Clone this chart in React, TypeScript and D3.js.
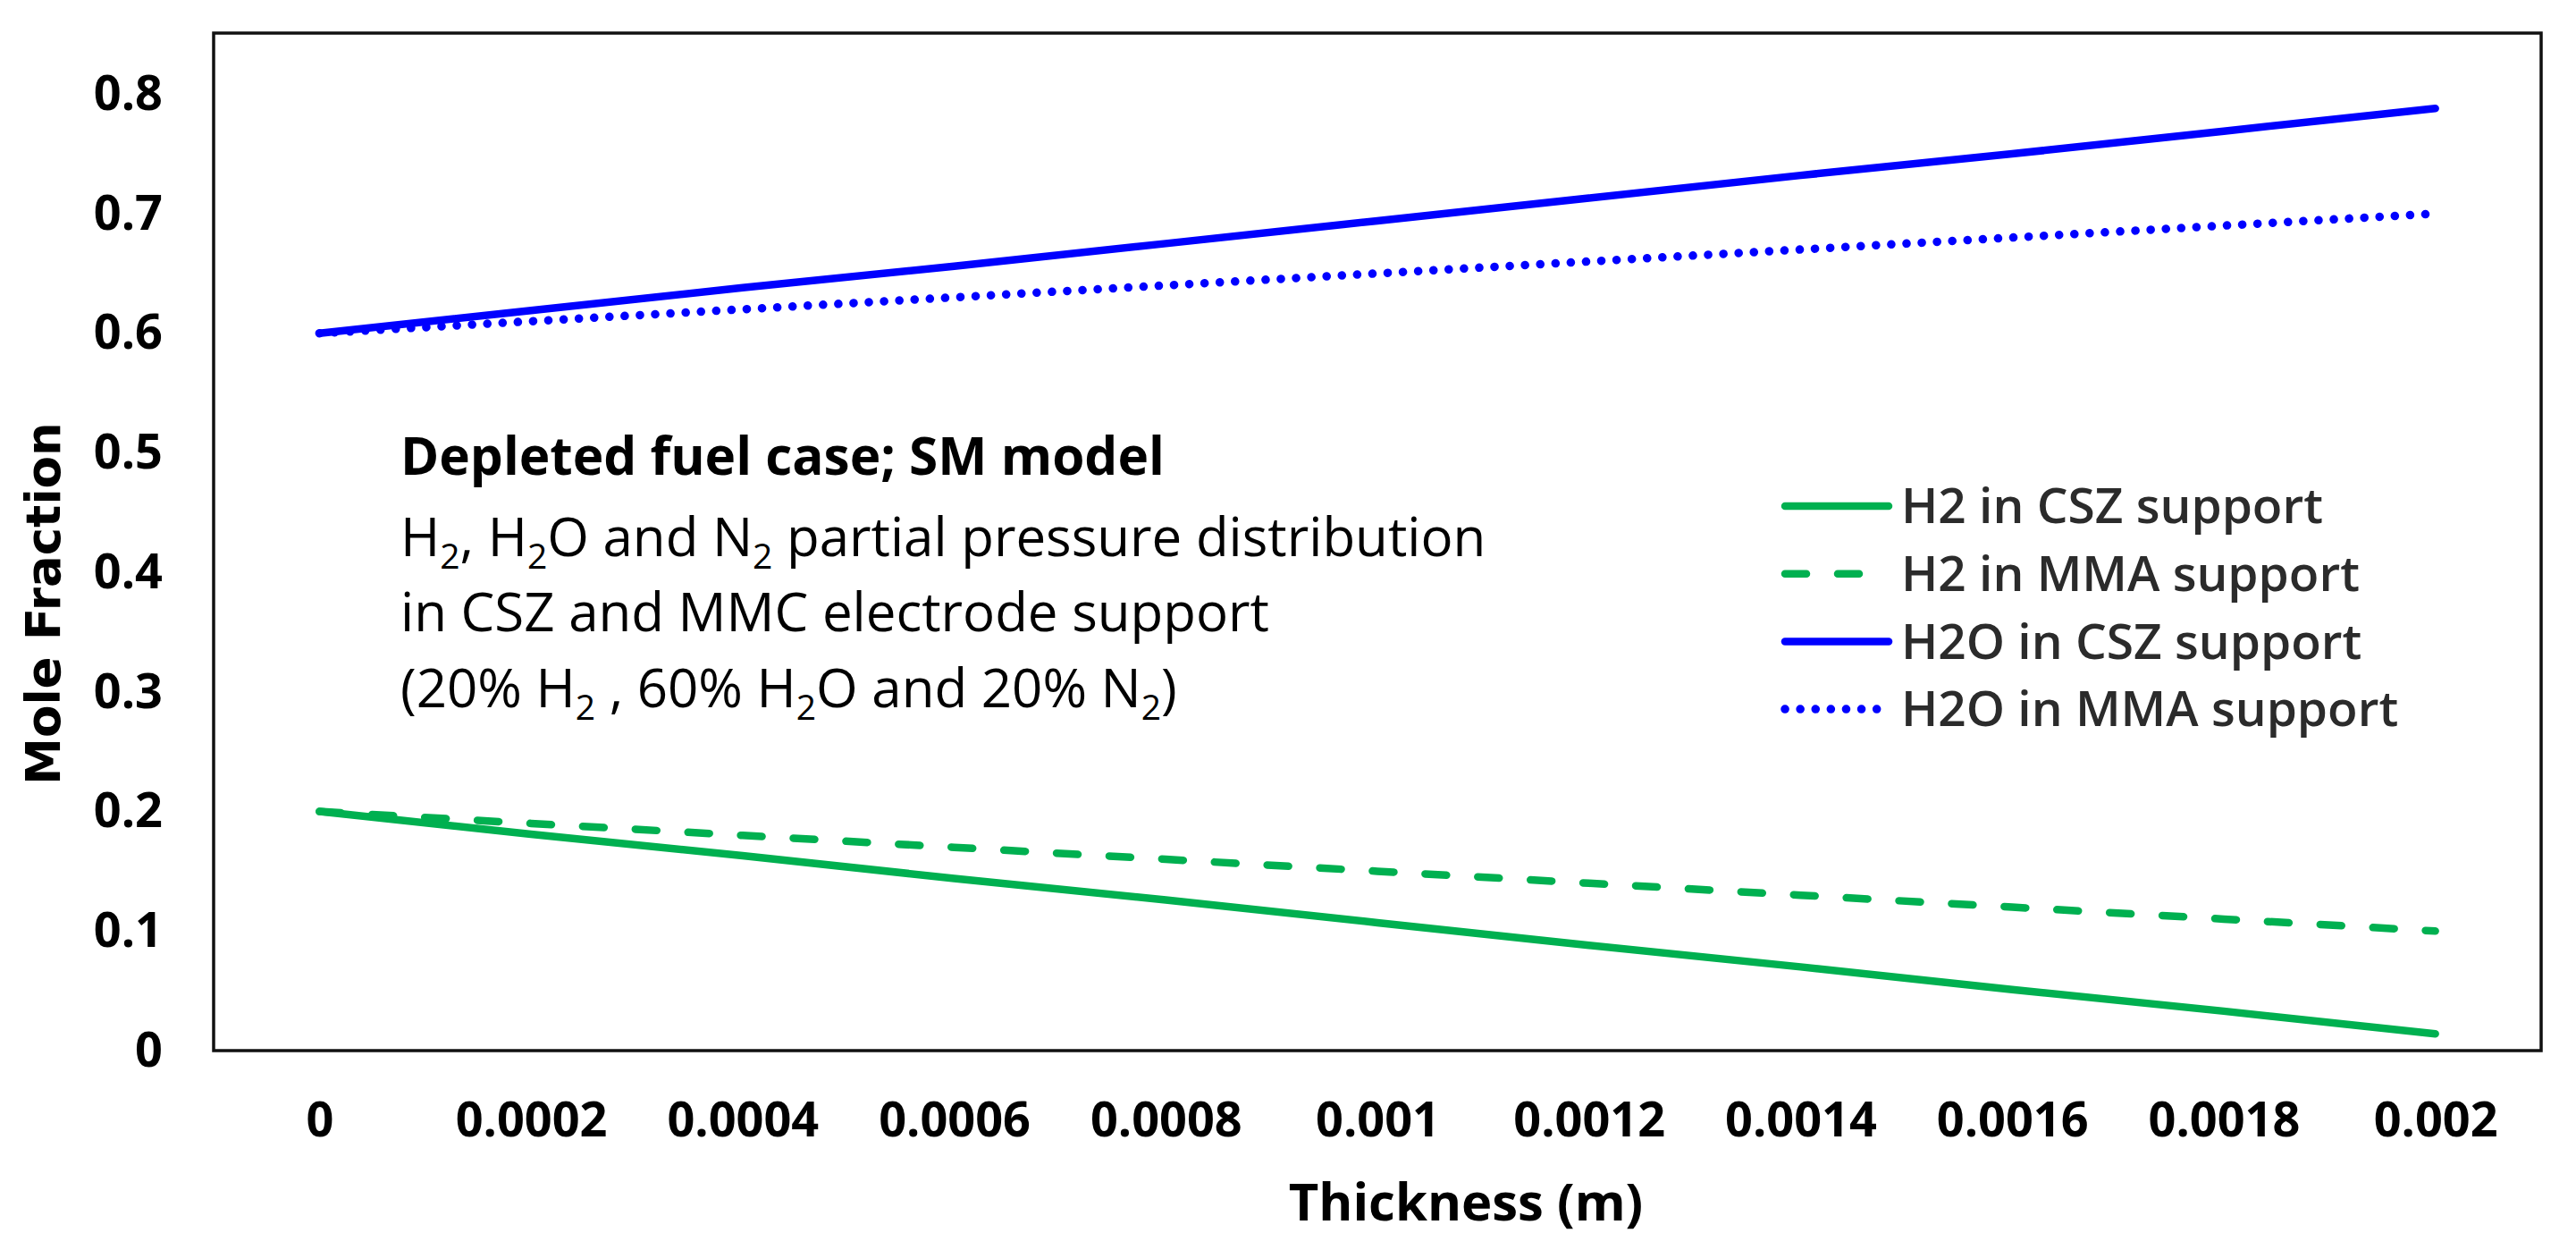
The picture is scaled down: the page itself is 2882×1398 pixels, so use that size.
import React, { useRef, useEffect } from 'react';
import * as d3 from 'd3';

// thickness (m) at each sample point
const thickness = [0, 0.0002, 0.0004, 0.0006, 0.0008, 0.001, 0.0012, 0.0014, 0.0016, 0.0018, 0.002];

// mole fractions
const h2Csz = [0.200, 0.181, 0.163, 0.144, 0.126, 0.107, 0.088, 0.070, 0.051, 0.033, 0.014];
const h2Mma = [0.200, 0.190, 0.180, 0.170, 0.160, 0.150, 0.140, 0.130, 0.120, 0.110, 0.100];
const h2oCsz = [0.600, 0.619, 0.638, 0.656, 0.675, 0.694, 0.713, 0.732, 0.750, 0.769, 0.788];
const h2oMma = [0.600, 0.610, 0.620, 0.630, 0.640, 0.650, 0.660, 0.670, 0.680, 0.690, 0.700];

const yTicks = [0, 0.1, 0.2, 0.3, 0.4, 0.5, 0.6, 0.7, 0.8];
const xTicks = [0, 0.0002, 0.0004, 0.0006, 0.0008, 0.001, 0.0012, 0.0014, 0.0016, 0.0018, 0.002];

const seriesNames = ['H2 in CSZ support', 'H2 in MMA support', 'H2O in CSZ support', 'H2O in MMA support'];

// annotation lines: [text, isSubscript]
const noteTitle = 'Depleted fuel case; SM model';
const noteLines: [string, boolean][][] = [
    [['H', false], ['2', true], [', H', false], ['2', true], ['O and N', false], ['2', true], [' partial pressure distribution', false]],
    [['in CSZ and MMC electrode support', false]],
    [['(20% H', false], ['2', true], [' , 60% H', false], ['2', true], ['O and 20% N', false], ['2', true], [')', false]],
];

const W = 2882;
const H = 1398;

export default function App() {
    const svgRef = useRef<SVGSVGElement | null>(null);

    useEffect(() => {
        if (!svgRef.current) return;
        const svg = d3.select(svgRef.current);
        svg.selectAll('*').remove();

        const margin = { top: 37, right: W - 2843, bottom: H - 1175, left: 239 };
        const x = d3.scaleLinear().domain([-0.0001, 0.0021]).range([margin.left, W - margin.right]);
        const y = d3.scaleLinear().domain([0, 0.851]).range([H - margin.bottom, margin.top]);

        const font = "'Open Sans', sans-serif";

        svg.append('rect')
            .attr('width', W).attr('height', H).attr('fill', '#ffffff');

        // y axis labels
        const yAxis = svg.append('g')
            .attr('transform', `translate(${margin.left},0)`)
            .call(d3.axisLeft(y).tickValues(yTicks).tickSize(0).tickPadding(57)
                .tickFormat(d => String(+(+d).toFixed(1))));
        yAxis.select('.domain').remove();
        yAxis.selectAll('text')
            .attr('font-family', font).attr('font-weight', 700).attr('font-size', 54)
            .attr('fill', '#000');

        // x axis labels
        const xAxis = svg.append('g')
            .attr('transform', `translate(0,${H - margin.bottom})`)
            .call(d3.axisBottom(x).tickValues(xTicks).tickSize(0).tickPadding(58)
                .tickFormat(d => String(+(+d).toFixed(4))));
        xAxis.select('.domain').remove();
        xAxis.selectAll('text')
            .attr('font-family', font).attr('font-weight', 700).attr('font-size', 54)
            .attr('fill', '#000');

        // axis titles
        svg.append('text')
            .attr('x', 1640).attr('y', 1365)
            .attr('text-anchor', 'middle')
            .attr('font-family', font).attr('font-weight', 700).attr('font-size', 58)
            .text('Thickness (m)');

        svg.append('text')
            .attr('transform', 'translate(67,675) rotate(-90)')
            .attr('text-anchor', 'middle')
            .attr('font-family', "'DejaVu Sans', sans-serif").attr('font-weight', 700).attr('font-size', 53)
            .text('Mole Fraction');

        // series
        const lineGen = d3.line<number>()
            .x((_, i) => x(thickness[i]))
            .y(d => y(d));

        const styles = [
            { data: h2Csz, color: '#00B050', dash: null },
            { data: h2Mma, color: '#00B050', dash: '24 35' },
            { data: h2oCsz, color: '#0000FF', dash: null },
            { data: h2oMma, color: '#0000FF', dash: '0.1 17' },
        ];

        styles.forEach(s => {
            svg.append('path')
                .datum(s.data)
                .attr('d', lineGen)
                .attr('fill', 'none')
                .attr('stroke', s.color)
                .attr('stroke-width', s.dash === '0.1 17' ? 9.5 : 8.5)
                .attr('stroke-linecap', 'round')
                .attr('stroke-dasharray', s.dash);
        });

        // plot frame
        svg.append('rect')
            .attr('x', margin.left).attr('y', margin.top)
            .attr('width', W - margin.right - margin.left)
            .attr('height', H - margin.bottom - margin.top)
            .attr('fill', 'none').attr('stroke', '#111').attr('stroke-width', 3.5);

        // legend
        const legend = svg.append('g').attr('transform', 'translate(1997,566)');
        seriesNames.forEach((name, i) => {
            const row = legend.append('g').attr('transform', `translate(0,${i * 75.7})`);
            row.append('line')
                .attr('x1', 0).attr('x2', 116).attr('y1', 0).attr('y2', 0)
                .attr('stroke', styles[i].color)
                .attr('stroke-width', i === 3 ? 9.5 : 8.5)
                .attr('stroke-linecap', 'round')
                .attr('stroke-dasharray', styles[i].dash);
            row.append('text')
                .attr('x', 130).attr('y', 0).attr('dy', '0.35em')
                .attr('font-family', font).attr('font-weight', 600).attr('font-size', 55)
                .attr('fill', '#2b2b2b')
                .text(name);
        });

        // annotation
        const note = svg.append('g').attr('font-family', font).attr('fill', '#000');
        note.append('text')
            .attr('x', 448).attr('y', 531)
            .attr('font-weight', 700).attr('font-size', 58.5)
            .text(noteTitle);

        const baselines = [622, 706, 791];
        noteLines.forEach((parts, li) => {
            const t = note.append('text')
                .attr('x', 448).attr('y', baselines[li])
                .attr('font-size', 60);
            let shifted = false;
            parts.forEach(([txt, sub]) => {
                const ts = t.append('tspan').text(txt);
                if (sub) {
                    ts.attr('font-size', 39).attr('dy', shifted ? 0 : 14);
                    shifted = true;
                } else {
                    ts.attr('dy', shifted ? -14 : 0);
                    shifted = false;
                }
            });
        });
    }, []);

    return (
        <div style={{ position: 'absolute', left: 0, top: 0, width: W, height: H }}>
            <svg ref={svgRef} width={W} height={H} style={{ display: 'block' }}></svg>
        </div>
    );
}
